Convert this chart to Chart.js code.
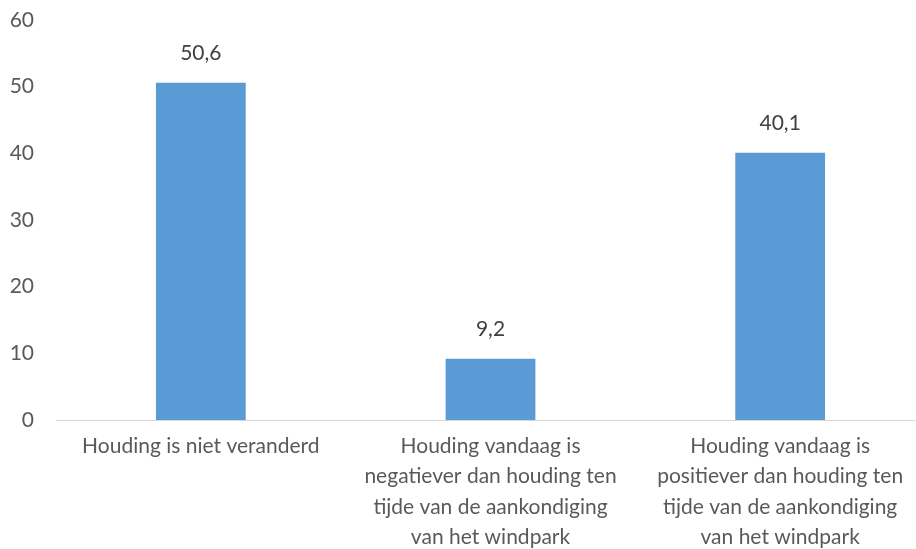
<!DOCTYPE html>
<html>
<head>
<meta charset="utf-8">
<script src="https://cdn.jsdelivr.net/npm/chart.js@4/dist/chart.umd.min.js"></script>
<style>
  html, body { margin: 0; padding: 0; background: #fff; overflow: hidden; }
  #wrap { width: 925px; height: 549px; }
</style>
</head>
<body>
<div id="wrap"><canvas id="barChart" width="925" height="549"></canvas></div>
<script>
// Houding tegenover het windpark
var CATEGORIES = [
    ["Houding is niet veranderd"],
    ["Houding vandaag is", "negatiever dan houding ten", "tijde van de aankondiging", "van het windpark"],
    ["Houding vandaag is", "positiever dan houding ten", "tijde van de aankondiging", "van het windpark"]
];
var WAARDEN = [50.6, 9.2, 40.1];
var Y_TICKS = [0, 10, 20, 30, 40, 50, 60];

var FONT = "Lato, 'Open Sans', sans-serif";
var GRIJS = "#595959";

// labels boven de staven (komma als decimaal teken)
var waardeLabels = {
    id: 'waardeLabels',
    afterDatasetsDraw: function(chart) {
        var ctx = chart.ctx;
        var meta = chart.getDatasetMeta(0);
        ctx.save();
        ctx.font = "21px " + FONT;
        ctx.fillStyle = "#404040";
        ctx.textAlign = "center";
        ctx.textBaseline = "middle";
        meta.data.forEach(function(bar, i) {
            var txt = WAARDEN[i].toFixed(1).replace(".", ",");
            ctx.fillText(txt, bar.x, bar.y - 29);
        });
        ctx.restore();
    }
};

var ctx = document.getElementById("barChart").getContext("2d");
var barChart = new Chart(ctx, {
    type: 'bar',
    data: {
        labels: CATEGORIES,
        datasets: [{
            data: WAARDEN,
            backgroundColor: "#5b9bd5",
            barPercentage: 0.31,
            categoryPercentage: 1.0
        }]
    },
    options: {
        responsive: false,
        animation: false,
        layout: { padding: 0 },
        plugins: {
            legend: { display: false },
            tooltip: { enabled: false }
        },
        scales: {
            x: {
                afterFit: function(scale) { scale.height = 129; },
                grid: { display: false, drawTicks: false },
                border: { display: true, color: "#d9d9d9", width: 1 },
                ticks: {
                    color: GRIJS,
                    font: { family: FONT, size: 21, lineHeight: 1.45 },
                    padding: 11,
                    maxRotation: 0,
                    autoSkip: false
                }
            },
            y: {
                min: 0,
                max: 60,
                afterBuildTicks: function(scale) {
                    scale.ticks = Y_TICKS.map(function(v) { return { value: v }; });
                },
                afterFit: function(scale) {
                    scale.width = 56;
                    scale.paddingTop = 20;
                    scale.paddingBottom = 0;
                },
                grid: { display: false, drawTicks: false },
                border: { display: false },
                ticks: {
                    color: GRIJS,
                    font: { family: FONT, size: 21 },
                    padding: 22
                }
            }
        }
    },
    plugins: [waardeLabels]
});
</script>
</body>
</html>
